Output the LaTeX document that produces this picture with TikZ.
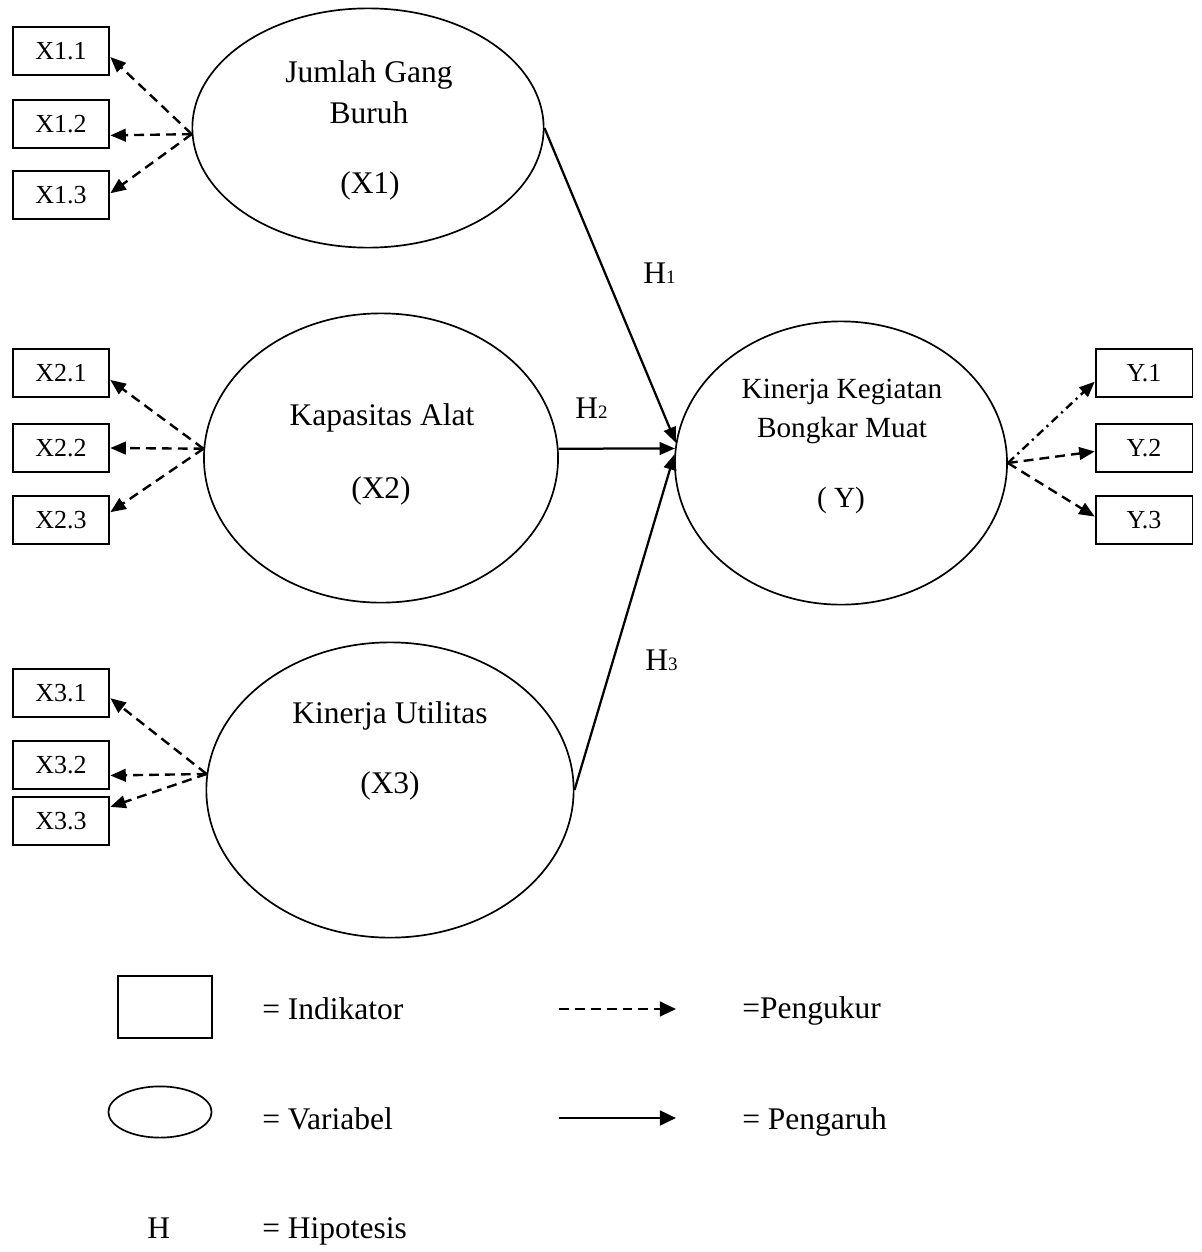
\documentclass[tikz,border=0pt]{standalone}
\usepackage{fontspec}
\setmainfont{Liberation Serif}
\usetikzlibrary{arrows.meta,shapes.geometric}
\newcommand{\txtL}{\fontsize{22.4}{27}\selectfont}
\newcommand{\txtM}{\fontsize{20.8}{25}\selectfont}
\newcommand{\txtS}{\fontsize{18.5}{22}\selectfont}
\newcommand{\idx}[1]{{\fontsize{13.5}{14}\selectfont #1}}
\tikzset{
  indbox/.style={draw, line width=1.3pt, minimum width=2.42cm, minimum height=1.2cm, inner sep=0pt, font=\txtS},
  latent/.style={draw, ellipse, line width=1.2pt, inner sep=0pt},
  vtext/.style={inner sep=0pt, anchor=base, font=\txtL},
  meas/.style={line width=1.7pt, dash pattern=on 7pt off 4.3pt, -{Triangle[length=11pt,width=9pt]}},
  effect/.style={line width=1.6pt, -{Triangle[length=11pt,width=9pt]}},
}
\begin{document}
\begin{tikzpicture}[x=0.025cm,y=-0.025cm]
  \useasboundingbox (0,0) rectangle (1202,1252);
  % latent variables
  \node[latent, minimum width=8.78cm, minimum height=5.98cm] (X1) at (368,128) {};
  \node[latent, minimum width=8.85cm, minimum height=7.23cm] (X2) at (381,458) {};
  \node[latent, minimum width=9.18cm, minimum height=7.38cm] (X3) at (390,790) {};
  \node[latent, minimum width=8.30cm, minimum height=7.08cm] (Y) at (841,463) {};
  \node[vtext] (tx1a) at (369,82) {Jumlah Gang};
  \node[vtext] (tx1b) at (369,123) {Buruh};
  \node[vtext] (tx1c) at (370,193) {(X1)};
  \node[vtext] (tx2a) at (382,425) {Kapasitas Alat};
  \node[vtext] (tx2b) at (381,498) {(X2)};
  \node[vtext] (tx3a) at (390,723) {Kinerja Utilitas};
  \node[vtext] (tx3b) at (390,793) {(X3)};
  \node[vtext, font=\txtM] (tya) at (842,398) {Kinerja Kegiatan};
  \node[vtext, font=\txtM] (tyb) at (842,437) {Bongkar Muat};
  \node[vtext, font=\txtM] (tyc) at (841,507) {( Y)};
  % indicators
  \node[indbox] (X11) at (61,51) {X1.1};
  \node[indbox] (X12) at (61,124) {X1.2};
  \node[indbox] (X13) at (61,195) {X1.3};
  \node[indbox] (X21) at (61,373) {X2.1};
  \node[indbox] (X22) at (61,448) {X2.2};
  \node[indbox] (X23) at (61,520) {X2.3};
  \node[indbox] (X31) at (61,693) {X3.1};
  \node[indbox] (X32) at (61,765) {X3.2};
  \node[indbox] (X33) at (61,821) {X3.3};
  \node[indbox] (Y1) at (1144,373) {Y.1};
  \node[indbox] (Y2) at (1144,448) {Y.2};
  \node[indbox] (Y3) at (1144,520) {Y.3};
  % measurement
  \draw[meas] (X1.182) -- (X11.-7);
  \draw[meas] (X1.182) -- (X12.-13);
  \draw[meas] (X1.182) -- (X13.2);
  \draw[meas] (X2.177) -- (X21.-8);
  \draw[meas] (X2.177) -- (X22.east);
  \draw[meas] (X2.177) -- (X23.9);
  \draw[meas] (X3.175) -- (X31.-6);
  \draw[meas] (X3.175) -- (X32.-12);
  \draw[meas] (X3.175) -- (X33.16);
  \draw[meas, dash pattern=on 6pt off 3.3pt on 1.6pt off 3.3pt] (Y.east) -- (Y1.190);
  \draw[meas] (Y.east) -- (Y2.184);
  \draw[meas] (Y.east) -- (Y3.176);
  % hypotheses
  \draw[effect] (X1.east) -- (Y.173);
  \draw[effect] (X2.3) -- (Y.175);
  \draw[effect] (X3.east) -- (Y.177);
  \node[vtext, anchor=base west] (h1) at (643,283) {H\idx{1}};
  \node[vtext, anchor=base west] (h2) at (575,418) {H\idx{2}};
  \node[vtext, anchor=base west] (h3) at (645,670) {H\idx{3}};
  % legend
  \node[draw, line width=1.3pt, minimum width=2.35cm, minimum height=1.55cm] (lbox) at (165,1007) {};
  \node[latent, minimum width=2.58cm, minimum height=1.28cm] (lell) at (160,1112) {};
  \node[vtext, anchor=base west] (lH) at (147,1238) {H};
  \node[vtext, anchor=base west] (lind) at (262,1019) {= Indikator};
  \node[vtext, anchor=base west] (lvar) at (262,1129) {= Variabel};
  \node[vtext, anchor=base west] (lhyp) at (262,1238) {= Hipotesis};
  \coordinate (m0) at (559,1009);
  \coordinate (m1) at (676,1009);
  \draw[meas, -{Triangle[length=11.5pt,width=10.5pt]}] (m0) -- (m1);
  \coordinate (e0) at (559,1118);
  \coordinate (e1) at (676,1118);
  \draw[effect, line width=2pt, -{Triangle[length=11.5pt,width=10.5pt]}] (e0) -- (e1);
  \node[vtext, anchor=base west] (lpgk) at (742,1018) {=Pengukur};
  \node[vtext, anchor=base west] (lpgr) at (742,1129) {= Pengaruh};
\end{tikzpicture}
\end{document}
